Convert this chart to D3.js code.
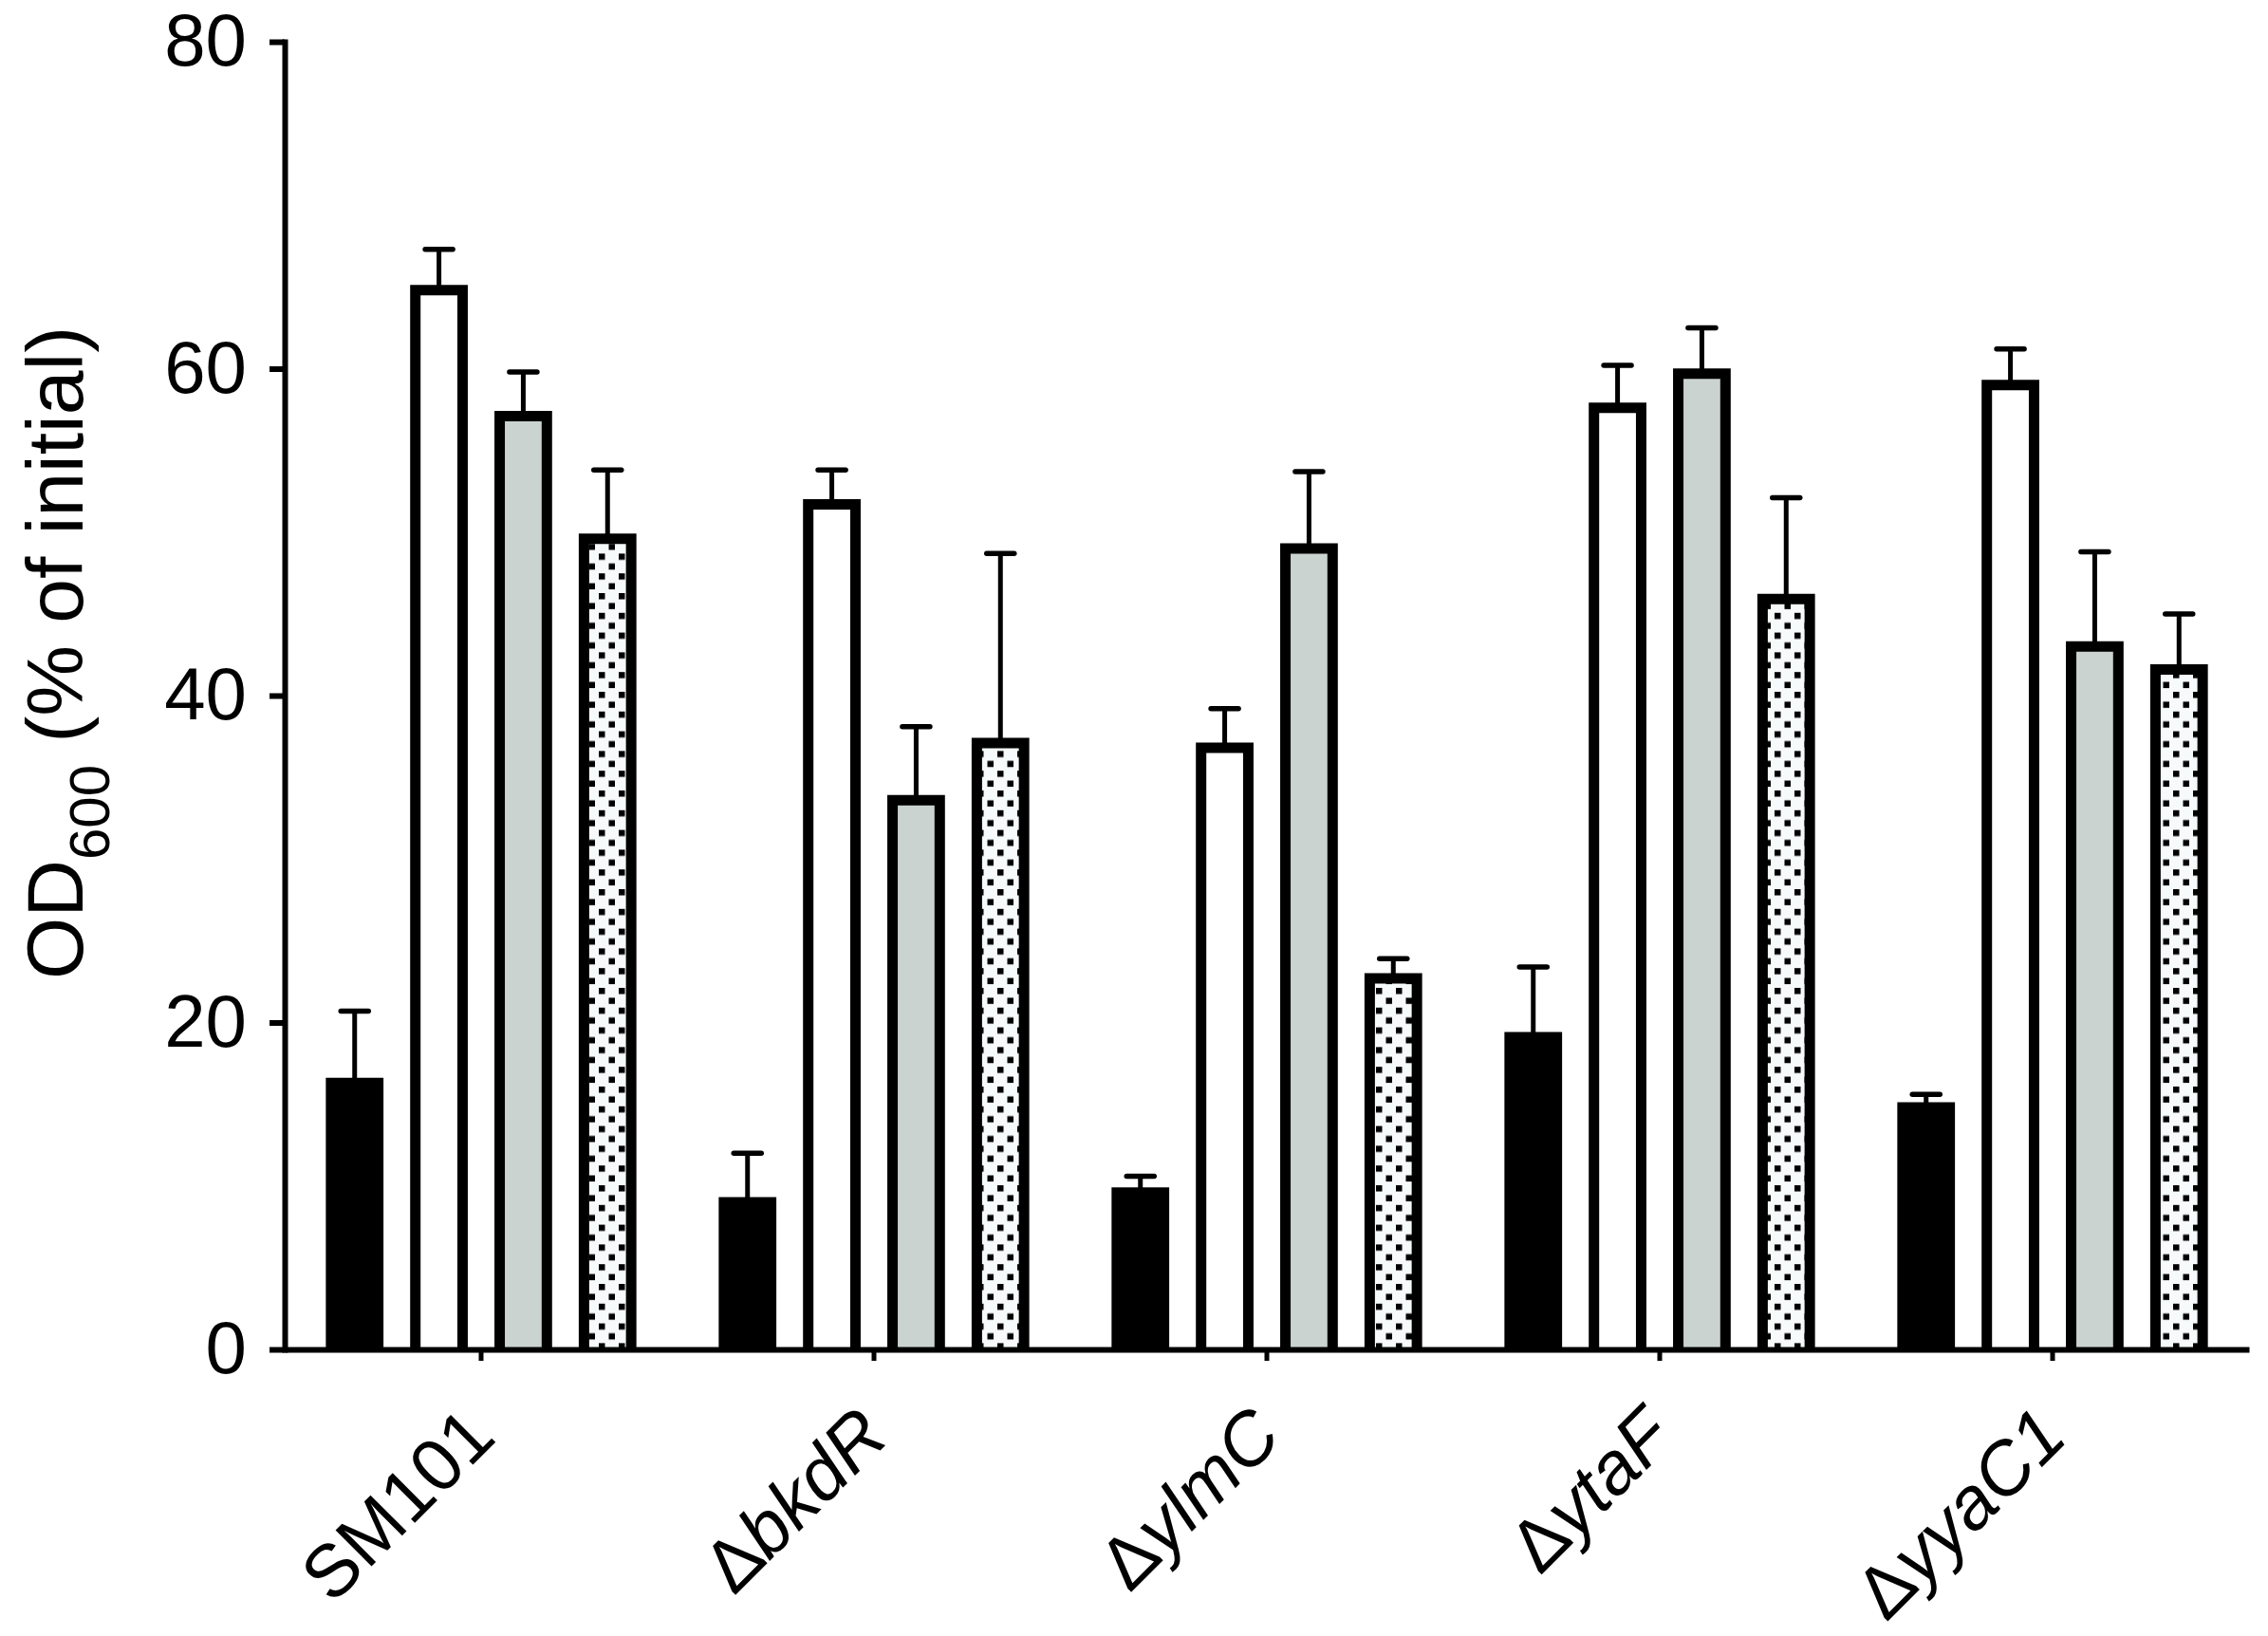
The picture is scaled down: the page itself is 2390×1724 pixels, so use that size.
<!DOCTYPE html>
<html>
<head>
<meta charset="utf-8">
<script src="https://cdn.jsdelivr.net/npm/d3@7"></script>
<style>
  html, body { margin: 0; padding: 0; background: #fff; }
  text { font-family: 'Liberation Sans', Arial, sans-serif; fill: #000; }
</style>
</head>
<body>
<div id="chart"></div>
<script>
const width = 2390
const height = 1724

// strains on the x axis
const strains = ['SM101', 'ΔbkdR', 'ΔylmC', 'ΔytaF', 'ΔyyaC1']
// four treatments per strain (black, white, grey, dotted bars)
const treatments = ['t1', 't2', 't3', 't4']

const meanT1 = [16.3, 9.0, 9.6, 19.1, 14.8]
const semT1 = [4.4, 3.0, 1.0, 4.3, 0.8]
const meanT2 = [64.8, 51.7, 36.8, 57.6, 59.0]
const semT2 = [2.5, 2.1, 2.4, 2.6, 2.2]
const meanT3 = [57.1, 33.6, 49.0, 59.7, 43.0]
const semT3 = [2.7, 4.5, 4.7, 2.8, 5.8]
const meanT4 = [49.6, 37.1, 22.7, 45.9, 41.6]
const semT4 = [4.2, 11.6, 1.2, 6.2, 3.4]

const yTicks = [0, 20, 40, 60, 80]

const means = [meanT1, meanT2, meanT3, meanT4]
const sems = [semT1, semT2, semT3, semT4]

const rows = []
strains.forEach((s, i) => {
  treatments.forEach((t, j) => {
    rows.push({ strain: s, treatment: t, mean: means[j][i], sem: sems[j][i] })
  })
})

const fills = {
  t1: '#000000',
  t2: '#ffffff',
  t3: '#cbd3d1',
  t4: 'url(#dots)'
}

const plot = { left: 300, right: 2370, top: 44, bottom: 1422 }

const svg = d3
  .select('#chart')
  .append('svg')
  .attr('width', width)
  .attr('height', height)

svg.append('rect').attr('width', width).attr('height', height).attr('fill', '#fff')

// dotted fill
const pat = svg
  .append('defs')
  .append('pattern')
  .attr('id', 'dots')
  .attr('patternUnits', 'userSpaceOnUse')
  .attr('width', 21)
  .attr('height', 20.8)
pat.append('rect').attr('width', 21).attr('height', 20.8).attr('fill', '#f6fafa')
pat.append('rect').attr('x', 1).attr('y', 1).attr('width', 6.5).attr('height', 6.5).attr('fill', '#000')
pat.append('rect').attr('x', 11.5).attr('y', 11.4).attr('width', 6.5).attr('height', 6.5).attr('fill', '#000')

const x = d3.scaleBand().domain(strains).range([plot.left, plot.right]).padding(0)

const xInner = d3
  .scaleBand()
  .domain(treatments)
  .range([0, x.bandwidth()])
  .paddingInner(0.44)
  .paddingOuter(0.55)

const y = d3.scaleLinear().domain([0, 80]).range([plot.bottom, plot.top])

// bars: open at the bottom so no border sits on the axis
svg
  .append('g')
  .selectAll('path')
  .data(rows)
  .enter()
  .append('path')
  .attr('d', d => {
    const x0 = x(d.strain) + xInner(d.treatment)
    const x1 = x0 + xInner.bandwidth()
    return `M${x0},${y(0)}V${y(d.mean)}H${x1}V${y(0)}`
  })
  .attr('fill', d => fills[d.treatment])
  .attr('stroke', '#000')
  .attr('stroke-width', 11)
  .attr('stroke-linejoin', 'miter')

// error bars (upper only)
const err = svg.append('g').attr('stroke', '#000')
const cx = d => x(d.strain) + xInner(d.treatment) + xInner.bandwidth() / 2

err
  .selectAll('line.stem')
  .data(rows)
  .enter()
  .append('line')
  .attr('class', 'stem')
  .attr('x1', cx)
  .attr('x2', cx)
  .attr('y1', d => y(d.mean))
  .attr('y2', d => y(d.mean + d.sem))
  .attr('stroke-width', 5)

err
  .selectAll('line.cap')
  .data(rows)
  .enter()
  .append('line')
  .attr('class', 'cap')
  .attr('x1', d => cx(d) - 14.5)
  .attr('x2', d => cx(d) + 14.5)
  .attr('y1', d => y(d.mean + d.sem))
  .attr('y2', d => y(d.mean + d.sem))
  .attr('stroke-width', 5.5)
  .attr('stroke-linecap', 'round')

// y axis
const yAxis = svg
  .append('g')
  .attr('transform', `translate(${plot.left},0)`)
  .call(d3.axisLeft(y).tickValues(yTicks).tickSize(16).tickSizeOuter(0).tickPadding(24))
yAxis.select('.domain').attr('stroke-width', 6).attr('stroke-linecap', 'square')
yAxis.selectAll('.tick line').attr('stroke-width', 6)
yAxis
  .selectAll('.tick text')
  .attr('font-size', 78)
  .attr('font-family', "'Liberation Sans', Arial, sans-serif")

// x axis
const xAxis = svg
  .append('g')
  .attr('transform', `translate(0,${plot.bottom})`)
  .call(d3.axisBottom(x).tickSize(12).tickSizeOuter(0).tickFormat(() => ''))
xAxis.select('.domain').attr('stroke-width', 6)
xAxis.selectAll('.tick line').attr('stroke-width', 5)

const xLabels = svg
  .append('g')
  .selectAll('text')
  .data(strains)
  .enter()
  .append('text')
  .attr('transform', d => `translate(${x(d) + x.bandwidth() / 2 + 18},${plot.bottom + 95}) rotate(-45)`)
  .attr('text-anchor', 'end')
  .attr('font-size', 78)

xLabels.each(function (d) {
  const t = d3.select(this)
  if (d.startsWith('Δ')) {
    t.append('tspan').text('Δ')
    t.append('tspan').attr('font-style', 'italic').text(d.slice(1))
  } else {
    t.text(d)
  }
})

// y axis title
const yTitle = svg
  .append('text')
  .attr('transform', 'translate(87,688) rotate(-90)')
  .attr('text-anchor', 'middle')
  .attr('font-size', 84)
yTitle.append('tspan').text('OD')
yTitle.append('tspan').attr('font-size', 60).attr('dy', 28).text('600')
yTitle.append('tspan').attr('dy', -28).text(' (% of initial)')
</script>
</body>
</html>
